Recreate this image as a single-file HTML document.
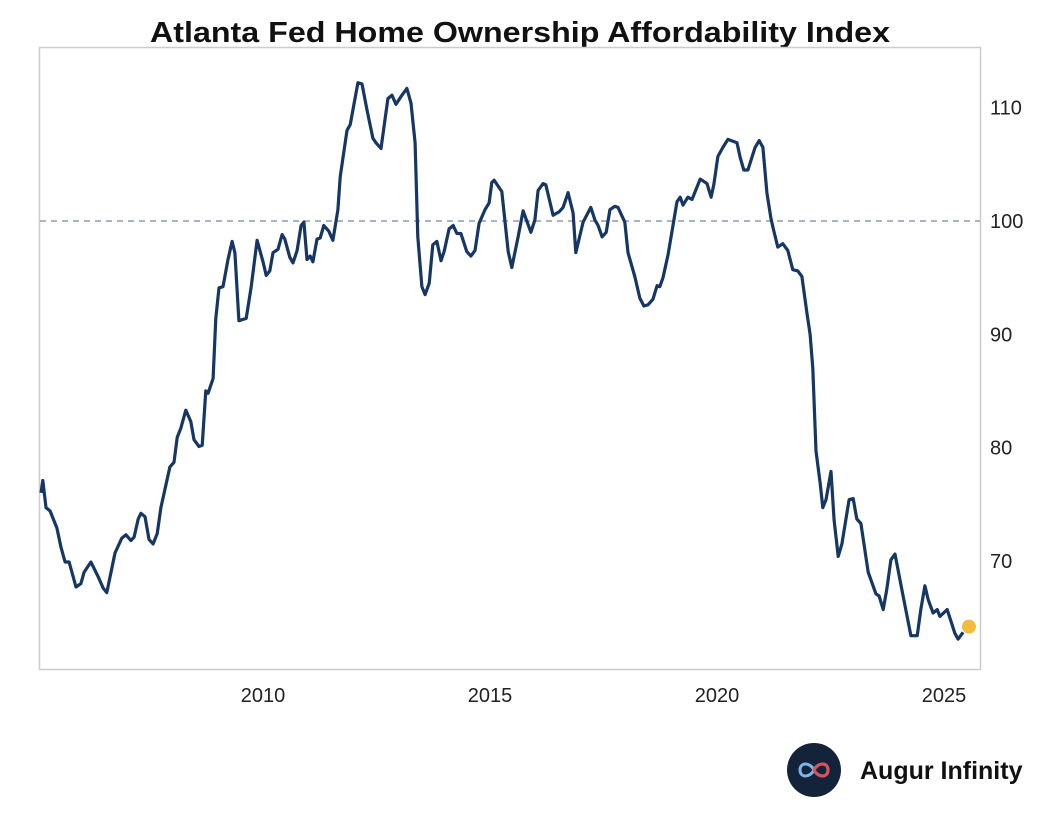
<!DOCTYPE html>
<html><head><meta charset="utf-8"><style>
body{margin:0;background:#fff;width:1040px;height:812px;overflow:hidden;font-family:"Liberation Sans",sans-serif}
</style></head><body>
<svg width="1040" height="812">
<text x="520" y="42" text-anchor="middle" font-size="29" font-weight="bold" fill="#111" textLength="740" lengthAdjust="spacingAndGlyphs">Atlanta Fed Home Ownership Affordability Index</text>
<rect x="39.5" y="47.5" width="941" height="622" fill="none" stroke="#ccc" stroke-width="1.5"/>
<g id="yticks"></g><g id="xticks"></g>
<line id="ref" stroke="#8e9bb5" stroke-width="1.5" stroke-dasharray="6,5"/>
<path id="line" fill="none" stroke="#163664" stroke-width="3.2" stroke-linejoin="round"/>
<circle id="dot" r="7" fill="#f0bd3e"/>
<g>
<circle cx="814" cy="770" r="27" fill="#13243a"/>
<path d="M800 770 c0 -8 10 -8 14 0 c4 8 14 8 14 0 c0 -8 -10 -8 -14 0 c-4 8 -14 8 -14 0z" fill="none" stroke="#7fb6e8" stroke-width="3"/>
<path d="M814 770 c4 8 14 8 14 0 c0 -8 -10 -8 -14 0" fill="none" stroke="#e0505a" stroke-width="3"/>
<text x="860" y="779" font-size="25" font-weight="bold" fill="#111">Augur Infinity</text>
</g>
</svg>
<script>
const years=[2005.11,2005.15,2005.22,2005.31,2005.46,2005.55,2005.64,2005.73,2005.88,2005.99,2006.06,2006.21,2006.37,2006.48,2006.56,2006.74,2006.89,2006.98,2007.09,2007.16,2007.25,2007.31,2007.40,2007.49,2007.58,2007.67,2007.75,2007.84,2007.95,2008.04,2008.11,2008.19,2008.30,2008.41,2008.48,2008.59,2008.66,2008.74,2008.79,2008.90,2008.96,2009.03,2009.12,2009.23,2009.32,2009.38,2009.47,2009.63,2009.74,2009.87,2010.00,2010.07,2010.15,2010.22,2010.33,2010.42,2010.48,2010.59,2010.66,2010.75,2010.84,2010.90,2010.97,2011.04,2011.10,2011.19,2011.26,2011.34,2011.45,2011.54,2011.65,2011.70,2011.85,2011.92,2012.09,2012.18,2012.29,2012.42,2012.49,2012.60,2012.75,2012.84,2012.93,2013.06,2013.17,2013.26,2013.35,2013.41,2013.50,2013.57,2013.66,2013.74,2013.83,2013.92,2013.99,2014.10,2014.19,2014.27,2014.36,2014.49,2014.58,2014.67,2014.76,2014.89,2014.98,2015.04,2015.09,2015.26,2015.40,2015.48,2015.62,2015.73,2015.90,2015.99,2016.06,2016.17,2016.23,2016.39,2016.52,2016.61,2016.72,2016.83,2016.89,2017.05,2017.22,2017.31,2017.38,2017.47,2017.56,2017.64,2017.75,2017.82,2017.97,2018.04,2018.19,2018.30,2018.39,2018.48,2018.59,2018.68,2018.74,2018.81,2018.92,2019.12,2019.19,2019.25,2019.36,2019.45,2019.63,2019.78,2019.87,2019.93,2020.02,2020.13,2020.24,2020.44,2020.51,2020.59,2020.68,2020.84,2020.93,2021.01,2021.10,2021.19,2021.23,2021.34,2021.45,2021.56,2021.67,2021.78,2021.87,2021.98,2022.05,2022.11,2022.18,2022.27,2022.33,2022.40,2022.51,2022.58,2022.67,2022.75,2022.91,2023.00,2023.08,2023.17,2023.33,2023.50,2023.57,2023.66,2023.74,2023.83,2023.92,2024.10,2024.27,2024.41,2024.49,2024.58,2024.65,2024.76,2024.85,2024.91,2025.07,2025.24,2025.31,2025.42,2025.55];
const values=[76.0,77.1,74.7,74.4,72.9,71.2,69.9,69.9,67.7,68.0,69.0,69.9,68.6,67.6,67.2,70.7,72.0,72.3,71.8,72.1,73.7,74.2,73.9,71.9,71.5,72.4,74.7,76.3,78.3,78.7,80.9,81.7,83.3,82.3,80.7,80.1,80.2,85.0,84.8,86.1,91.4,94.1,94.2,96.6,98.2,97.2,91.2,91.4,94.2,98.3,96.4,95.2,95.6,97.2,97.5,98.8,98.4,96.8,96.3,97.4,99.6,99.9,96.6,96.9,96.4,98.4,98.5,99.6,99.1,98.3,101.0,103.9,108.0,108.5,112.2,112.1,109.8,107.3,106.9,106.4,110.8,111.1,110.3,111.1,111.7,110.4,106.9,98.6,94.2,93.5,94.5,97.9,98.2,96.5,97.3,99.3,99.6,98.9,98.9,97.3,96.9,97.4,99.8,101.0,101.6,103.4,103.6,102.6,97.3,95.9,98.6,100.9,99.0,100.1,102.7,103.3,103.2,100.5,100.8,101.2,102.5,100.7,97.2,99.9,101.2,100.1,99.6,98.6,99.0,101.0,101.3,101.2,99.9,97.2,95.1,93.2,92.5,92.6,93.1,94.3,94.2,95.0,97.0,101.7,102.1,101.4,102.1,101.9,103.7,103.3,102.1,103.2,105.7,106.5,107.2,106.9,105.6,104.5,104.5,106.5,107.1,106.5,102.5,100.2,99.5,97.7,98.0,97.4,95.7,95.6,95.1,91.9,90.0,87.0,79.7,76.9,74.7,75.4,77.9,73.6,70.4,71.5,75.4,75.5,73.7,73.3,69.0,67.1,66.9,65.7,67.5,70.1,70.6,66.9,63.4,63.4,65.7,67.8,66.6,65.4,65.7,65.1,65.7,63.6,63.1,63.7,64.2];
const yTicks=[70,80,90,100,110];
const xTicks=[2010,2015,2020,2025];
const refValue=100;
const X=yr=>263+(yr-2010)*45.4;
const Y=v=>221-(v-100)*11.33;
const NS='http://www.w3.org/2000/svg';
const n=years.length;
let d='';
for(let i=0;i<n-1;i++){d+=(i?'L':'M')+X(years[i]).toFixed(1)+' '+Y(values[i]).toFixed(1);}
document.getElementById('line').setAttribute('d',d);
const dot=document.getElementById('dot');
dot.setAttribute('cx',X(years[n-1]));dot.setAttribute('cy',Y(values[n-1]));
const ref=document.getElementById('ref');
ref.setAttribute('x1',40);ref.setAttribute('x2',980);ref.setAttribute('y1',Y(refValue));ref.setAttribute('y2',Y(refValue));
const yg=document.getElementById('yticks');
yTicks.forEach(v=>{const t=document.createElementNS(NS,'text');
t.setAttribute('x',990);t.setAttribute('y',Y(v)+7);t.setAttribute('font-size','20');t.setAttribute('fill','#222');


t.textContent=v;yg.appendChild(t);});
const xg=document.getElementById('xticks');
xTicks.forEach(v=>{const t=document.createElementNS(NS,'text');
t.setAttribute('x',X(v));t.setAttribute('y',702);t.setAttribute('font-size','20');t.setAttribute('fill','#222');t.setAttribute('text-anchor','middle');


t.textContent=v;xg.appendChild(t);});
</script>
</body></html>
